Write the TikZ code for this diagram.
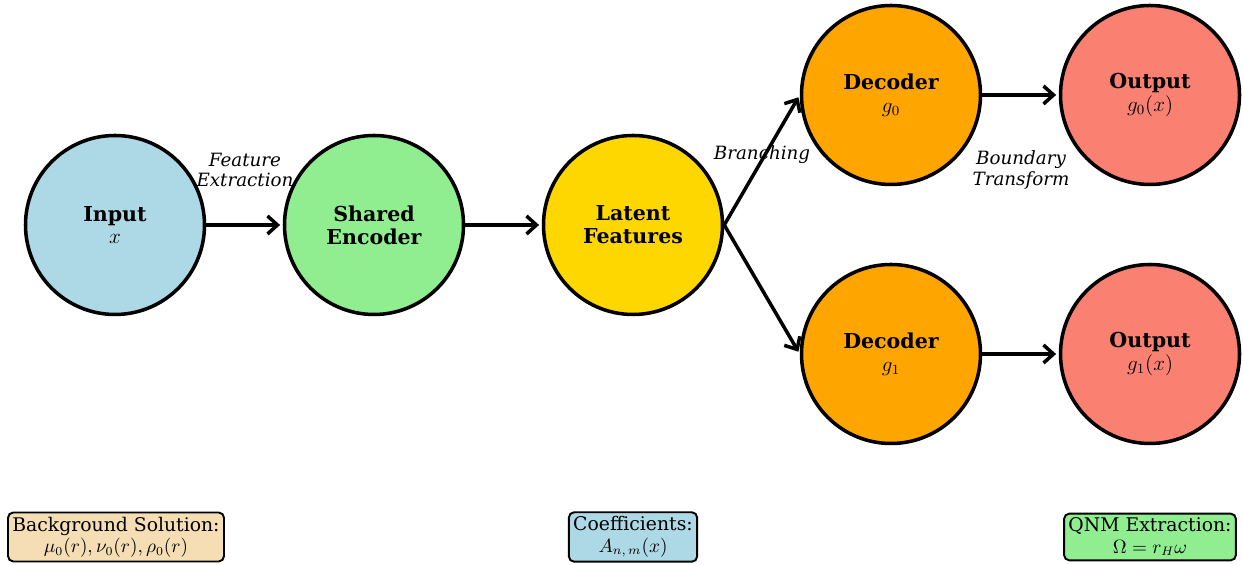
\documentclass[tikz,border=0pt]{standalone}
\usepackage{amsmath,amssymb}
\usepackage[no-math]{fontspec}
\setmainfont{DejaVu Serif}
\usepackage{tikz}
\usetikzlibrary{arrows.meta,positioning}

\definecolor{inblue}{HTML}{ADD8E6}
\definecolor{encgreen}{HTML}{90EE90}
\definecolor{latgold}{HTML}{FFD700}
\definecolor{decorange}{HTML}{FFA500}
\definecolor{outsalmon}{HTML}{FA8072}
\definecolor{bgwheat}{HTML}{F5DEB3}

\begin{document}
\begin{tikzpicture}[>={Straight Barb[length=2mm,width=3.6mm]},
    stage/.style={circle, draw, line width=2pt, minimum size=3.58cm,
        align=center, font=\fontsize{11.7}{13}\selectfont\bfseries},
    flow/.style={->, line width=2pt, shorten >=1.5pt},
    flowlabel/.style={align=center, font=\fontsize{10.4}{11.5}\selectfont\itshape},
    infobox/.style={draw, rounded corners=3pt, line width=1.1pt, align=center,
        inner sep=2.5pt, font=\fontsize{10.7}{12}\selectfont}]
\useasboundingbox (0,0) rectangle (24.86,11.3);

% main pipeline
\node[stage, fill=inblue]    (input)  at (2.30,6.80)  {Input\\$x$};
\node[stage, fill=encgreen]  (enc)    at (7.48,6.80)  {Shared\\Encoder};
\node[stage, fill=latgold]   (latent) at (12.66,6.80) {Latent\\Features};
\node[stage, fill=decorange] (dec0)   at (17.82,9.40) {Decoder\\$g_0$};
\node[stage, fill=decorange] (dec1)   at (17.82,4.22) {Decoder\\$g_1$};
\node[stage, fill=outsalmon] (out0)   at (23.00,9.40) {Output\\$g_0(x)$};
\node[stage, fill=outsalmon] (out1)   at (23.00,4.22) {Output\\$g_1(x)$};

\draw[flow] (input) -- (enc);
\draw[flow] (enc) -- (latent);
\draw[flow] (latent.east) -- (dec0.west);
\draw[flow] (latent.east) -- (dec1.west);
\draw[flow] (dec0) -- (out0);
\draw[flow] (dec1) -- (out1);

\node[flowlabel] (featlbl)   at (4.90,7.90)  {Feature\\Extraction};
\node[flowlabel] (branchlbl) at (15.24,8.20) {Branching};
\node[flowlabel] (bndlbl)    at (20.42,7.90) {Boundary\\Transform};

% info boxes
\node[infobox, fill=bgwheat]  (bgsol)  at (2.32,0.56)
    {Background Solution:\\$\mu_0(r), \nu_0(r), \rho_0(r)$};
\node[infobox, fill=inblue]   (coeffs) at (12.66,0.56)
    {Coefficients:\\$A_{n,\,m}(x)$};
\node[infobox, fill=encgreen] (qnm)    at (23.00,0.56)
    {QNM Extraction:\\$\Omega = r_H\omega$};
\end{tikzpicture}
\end{document}
